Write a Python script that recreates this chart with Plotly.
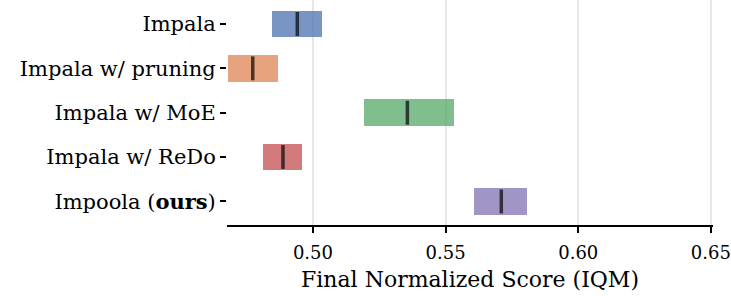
import plotly.graph_objects as go

methods = ["Impala", "Impala w/ pruning", "Impala w/ MoE", "Impala w/ ReDo", "Impoola (<b>ours</b>)"]
ci_low = [0.4847, 0.4681, 0.5194, 0.4813, 0.5606]
ci_high = [0.5034, 0.4867, 0.5532, 0.4960, 0.5807]
iqm = [0.4941, 0.4773, 0.5356, 0.4887, 0.5710]
colors = ["#4C72B0", "#DD8452", "#55A868", "#C44E52", "#8172B3"]
x_ticks = [0.50, 0.55, 0.60, 0.65]
x_tick_labels = ["0.50", "0.55", "0.60", "0.65"]


def rgba(h, a):
    h = h.lstrip("#")
    return f"rgba({int(h[0:2],16)},{int(h[2:4],16)},{int(h[4:6],16)},{a})"


fig = go.Figure()
pos = list(range(len(methods)))
fig.add_trace(go.Bar(
    y=pos,
    x=[h - l for l, h in zip(ci_low, ci_high)],
    base=ci_low,
    orientation="h",
    width=0.6,
    marker=dict(color=[rgba(c, 0.75) for c in colors], line=dict(width=0)),
    showlegend=False,
))
for i, m in enumerate(iqm):
    fig.add_trace(go.Scatter(
        x=[m, m], y=[i - 0.27, i + 0.27], mode="lines",
        line=dict(color="rgba(0,0,0,0.68)", width=3.5),
        showlegend=False, hoverinfo="skip",
    ))

font = "DejaVu Serif"
fig.update_layout(
    width=731, height=296,
    margin=dict(l=227, r=18, t=0, b=71),
    plot_bgcolor="white", paper_bgcolor="white",
    font=dict(family=font, size=21, color="black"),
    xaxis=dict(
        range=[0.4676, 0.6508], tickvals=x_ticks, ticktext=x_tick_labels,
        showgrid=True, gridcolor="#e6e6e6", gridwidth=1.5,
        showline=True, linecolor="black", linewidth=1.5,
        ticks="outside", ticklen=6, tickwidth=1.5, tickcolor="black",
        tickfont=dict(family=font, size=18), ticklabelstandoff=5,
        ticklabeloverflow="allow",
        title=dict(text="Final Normalized Score (IQM)", font=dict(family=font, size=22), standoff=9),
        zeroline=False, automargin=False,
    ),
    yaxis=dict(
        range=[4.53, -0.54], tickvals=pos, ticktext=methods,
        showgrid=False, showline=False, zeroline=False,
        ticks="outside", ticklen=6, tickwidth=1.5, tickcolor="black",
        tickfont=dict(family=font, size=21), automargin=False,
    ),
    bargap=0,
)
fig.write_html("out.html", config={"displayModeBar": False},
               post_script="document.body.style.margin='0';")
